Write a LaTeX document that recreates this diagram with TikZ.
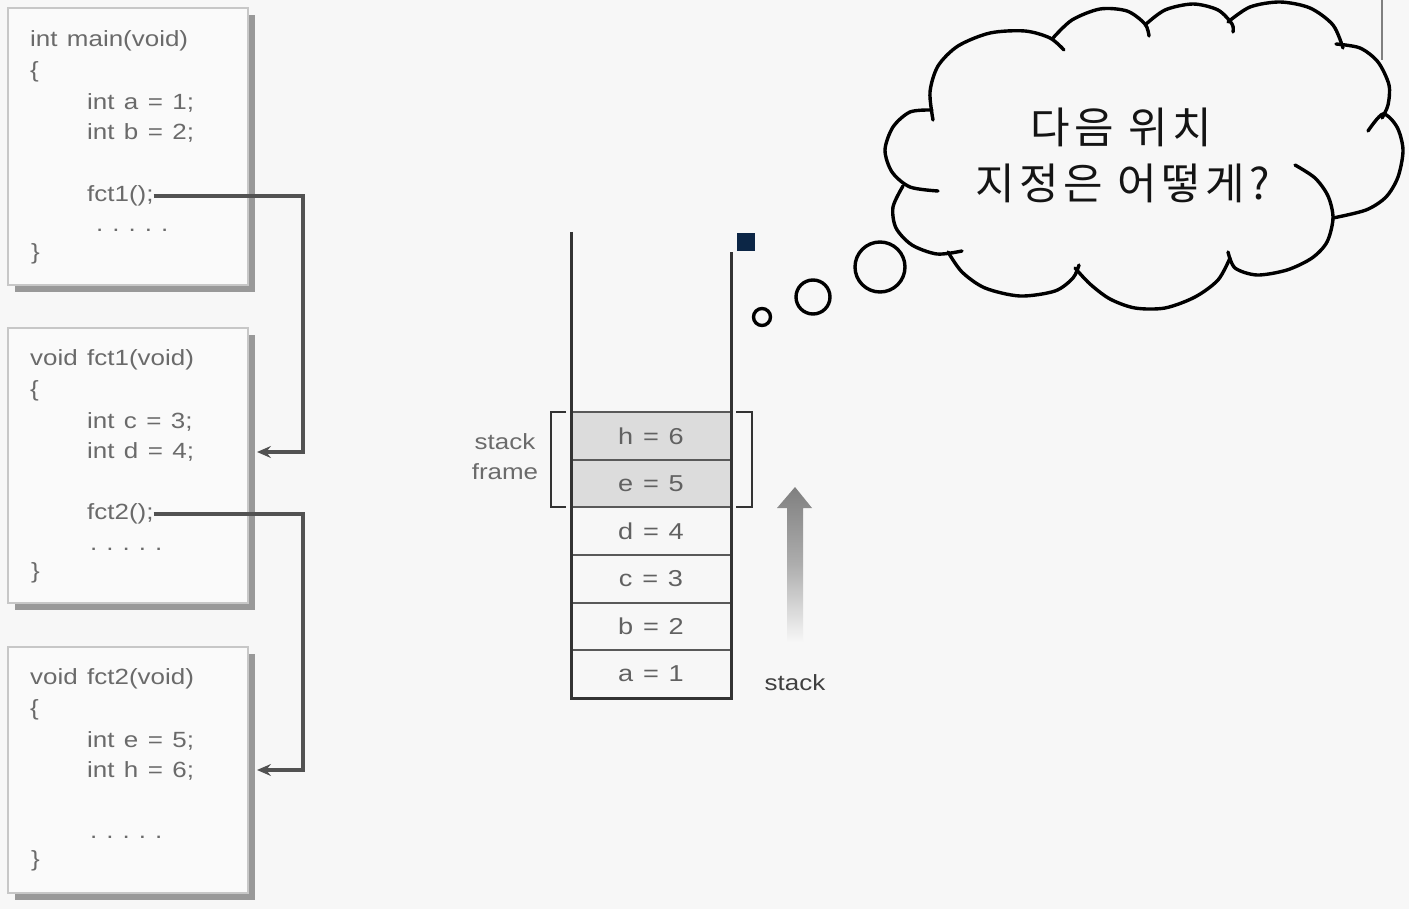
\documentclass[tikz,border=0pt]{standalone}
\usepackage{fontspec}
\setmainfont{Liberation Sans}
\newfontfamily\codefont[FakeStretch=1.18,WordSpace=1.3]{Liberation Sans}
\newfontfamily\krfont{Noto Sans CJK KR}
\usetikzlibrary{arrows.meta,shadows}
\definecolor{bg}{HTML}{F7F7F7}
\definecolor{boxfill}{HTML}{FAFAFA}
\definecolor{codegray}{HTML}{6A6A6A}
\definecolor{navy}{HTML}{0C2646}
\definecolor{cellgray}{HTML}{DCDCDC}
\newcommand{\kgap}{\hspace{4.5pt}}
\newcommand{\mydots}{.\hspace{9pt}.\hspace{9pt}.\hspace{9pt}.\hspace{9pt}.}
\begin{document}
\begin{tikzpicture}[x=1pt,y=-1pt,
  codebox/.style={draw=black!22, fill=boxfill, line width=1.4pt, minimum width=240pt, inner sep=0pt,
    drop shadow={shadow xshift=7pt, shadow yshift=-7pt, fill=black!40, opacity=1}},
  code/.style={font=\codefont\fontsize{22}{26}\selectfont, text=codegray, anchor=west, inner sep=0pt},
  conn/.style={draw=black!68, line width=3.2pt, -{Stealth[length=14pt,width=12pt,inset=5pt]}},
  cell/.style={draw=black!65, line width=2.2pt, minimum width=160pt, minimum height=47.67pt, inner sep=0pt,
    font=\codefont\fontsize{23}{26}\selectfont, text=black!62},
  wall/.style={draw=black!80, line width=3pt},
  brack/.style={draw=black!80, line width=2.8pt},
  bubble/.style={circle, draw=black, line width=3.4pt, inner sep=0pt},
  cloudline/.style={draw=black, line width=3.4pt, line cap=round},
  lbl/.style={font=\codefont\fontsize{22}{30}\selectfont, inner sep=0pt},
  kr/.style={font=\krfont\fontsize{43}{50}\selectfont, text=black!92, inner sep=0pt}
]
\useasboundingbox (0,0) rectangle (1409,909);
\fill[bg] (0,0) rectangle (1409,909);

% ---------- code boxes ----------
\node[codebox, minimum height=277pt] (box1) at (128,146.5) {};
\node[codebox, minimum height=275pt] (box2) at (128,465.5) {};
\node[codebox, minimum height=246pt] (box3) at (128,770) {};

\node[code] (m0) at (30,41) {int main(void)};
\node[code] (m1) at (30,72) {\{};
\node[code] (m2) at (87,103) {int a = 1;};
\node[code] (m3) at (87,133) {int b = 2;};
\node[code] (fct1) at (87,196) {fct1();};
\node[code] (m5) at (96,230) {\mydots};
\node[code] (m6) at (31,254) {\}};

\node[code] (f0) at (30,360) {void fct1(void)};
\node[code] (f1) at (30,391) {\{};
\node[code] (f2) at (87,422) {int c = 3;};
\node[code] (f3) at (87,452) {int d = 4;};
\node[code] (fct2) at (87,514) {fct2();};
\node[code] (f5) at (90,549) {\mydots};
\node[code] (f6) at (31,573) {\}};

\node[code] (g0) at (30,679) {void fct2(void)};
\node[code] (g1) at (30,710) {\{};
\node[code] (g2) at (87,741) {int e = 5;};
\node[code] (g3) at (87,771) {int h = 6;};
\node[code] (g5) at (90,837) {\mydots};
\node[code] (g6) at (31,861) {\}};

% ---------- connectors ----------
\coordinate (k1) at (303,196);
\coordinate (t1) at (257,452);
\coordinate (k2) at (303,514);
\coordinate (t2) at (257,770);
\draw[conn] (fct1.east) -- (k1) |- (t1);
\draw[conn] (fct2.east) -- (k2) |- (t2);

% ---------- stack ----------
\node[cell, fill=cellgray] (ch) at (651,435.83) {h = 6};
\node[cell, fill=cellgray] (ce) at (651,483.5) {e = 5};
\node[cell] (cd) at (651,531.17) {d = 4};
\node[cell] (cc) at (651,578.83) {c = 3};
\node[cell] (cb) at (651,626.5) {b = 2};
\node[cell] (ca) at (651,674.17) {a = 1};
\draw[wall] (571,232) -- (571,698) -- (731,698) -- (731,252);
\fill[navy] (737,233) rectangle (755,251);

\draw[brack] (566,412) -- (551,412) -- (551,507) -- (566,507);
\draw[brack] (736,412) -- (752,412) -- (752,507) -- (736,507);
\node[lbl, text=black!58, align=center] (sf) at (505,457) {stack\\frame};

\shade[top color=black!50, bottom color=bg, middle color=black!32]
  (787,642) -- (787,508) -- (777,508) -- (795,487) -- (812,508) -- (803,508) -- (803,642) -- cycle;
\node[lbl, text=black!75] (stk) at (795,683) {stack};

% ---------- thought bubbles ----------
\node[bubble, minimum size=17pt] (q1) at (762,317) {};
\node[bubble, minimum size=34pt] (q2) at (813,297) {};
\node[bubble, minimum size=50pt] (q3) at (880,267) {};

% ---------- cloud ----------
\draw[cloudline] plot[smooth] coordinates {(933,120) (930,92) (938,66) (958,46) (990,33) (1025,31) (1050,38) (1064,50)};
\draw[cloudline] plot[smooth] coordinates {(1053,38) (1072,20) (1100,9) (1127,11) (1145,24) (1149,36)};
\draw[cloudline] plot[smooth] coordinates {(1145,25) (1165,10) (1193,4) (1218,10) (1232,24) (1233,32)};
\draw[cloudline] plot[smooth] coordinates {(1228,22) (1250,7) (1280,2) (1310,8) (1333,25) (1343,48)};
\draw[cloudline] plot[smooth] coordinates {(1336,44) (1360,48) (1378,62) (1389,85) (1388,105) (1382,118)};
\draw[cloudline] plot[smooth] coordinates {(1368,131) (1383,114) (1397,127) (1403,150) (1398,177) (1386,197) (1366,210) (1333,218)};
\draw[cloudline] plot[smooth] coordinates {(1295,165) (1315,178) (1328,196) (1333,218) (1327,242) (1312,258) (1287,270) (1257,275) (1235,268) (1228,252)};
\draw[cloudline] plot[smooth] coordinates {(1230,258) (1218,280) (1195,297) (1165,308) (1135,308) (1110,299) (1090,284) (1075,268)};
\draw[cloudline] plot[smooth] coordinates {(948,252) (962,272) (985,288) (1020,296) (1055,291) (1073,278) (1079,265)};
\draw[cloudline] plot[smooth] coordinates {(903,186) (893,207) (896,228) (912,245) (937,254) (962,251)};
\draw[cloudline] plot[smooth] coordinates {(932,110) (910,112) (893,127) (885,150) (892,172) (910,187) (938,191)};

\node[kr] (k1t) at (1121,127) {다\kgap 음\kgap{} 위\kgap 치};
\node[kr] (k2t) at (1123,183) {지\kgap 정\kgap 은\kgap{} 어\kgap 떻\kgap 게\kgap ?};

\draw[black!50, line width=2pt] (1382,0) -- (1382,60);
\end{tikzpicture}
\end{document}
